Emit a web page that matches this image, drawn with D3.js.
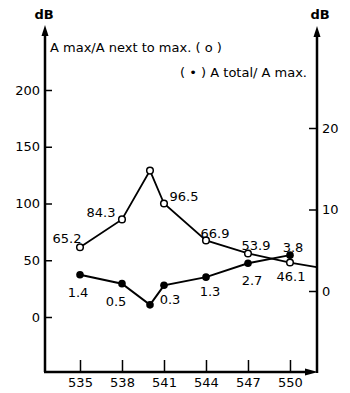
<!DOCTYPE html>
<html>
<head>
<meta charset="utf-8">
<script src="https://cdn.jsdelivr.net/npm/d3@7"></script>
<style>
  body { margin: 0; background: #fff; }
  text { font-family: "DejaVu Sans", sans-serif; fill: #000; }
</style>
</head>
<body>
<script>
// frequency (x) categories
var freqs = [535, 538, 540, 541, 544, 547, 550];
var xTicks = [535, 538, 541, 544, 547, 550];
var leftTicks = [0, 50, 100, 150, 200];
var rightTicks = [0, 10, 20];

// A max / A next to max (open circles, left axis)
var nextMax = [61.4, 86, 129, 100, 67.5, 56, 48];
var nextMaxLabels = ["65.2", "84.3", "", "96.5", "66.9", "53.9", "46.1"];
var nextMaxTail = [551.9, 43.9];

// A total / A max (filled dots, right axis)
var totalMax = [2.0, 0.9, -1.7, 0.7, 1.7, 3.4, 4.4];
var totalMaxLabels = ["1.4", "0.5", "", "0.3", "1.3", "2.7", "3.8"];

var width = 350, height = 393;

var svg = d3.select("body").append("svg")
    .attr("width", width)
    .attr("height", height);

var x = d3.scaleLinear().domain([532.5, 551.93]).range([45, 317]);
var yL = d3.scaleLinear().domain([0, 200]).range([317, 90]);
var yR = d3.scaleLinear().domain([0, 20]).range([291, 128]);
var baseY = 372;

// axes (ticks only, lines drawn by hand below)
var gx = svg.append("g").attr("transform", "translate(0," + baseY + ")")
    .call(d3.axisBottom(x).tickValues(xTicks).tickSize(-12).tickPadding(6).tickFormat(d3.format("d")));
var gl = svg.append("g").attr("transform", "translate(45,0)")
    .call(d3.axisLeft(yL).tickValues(leftTicks).tickSize(-7).tickPadding(5).tickFormat(d3.format("d")));
var gr = svg.append("g").attr("transform", "translate(317,0)")
    .call(d3.axisRight(yR).tickValues(rightTicks).tickSize(-8).tickPadding(5).tickFormat(d3.format("d")));

[gx, gl, gr].forEach(function(g) {
    g.select(".domain").remove();
    g.selectAll(".tick line").attr("stroke", "#000").attr("stroke-width", 1.5);
    g.selectAll(".tick text").style("font-size", "13px").attr("fill", "#000");
});

// axis lines
var axisStroke = 2.5;
svg.append("line").attr("x1", 45).attr("y1", baseY).attr("x2", 45).attr("y2", 34)
    .attr("stroke", "#000").attr("stroke-width", axisStroke);
svg.append("line").attr("x1", 317).attr("y1", baseY + 1).attr("x2", 317).attr("y2", 34)
    .attr("stroke", "#000").attr("stroke-width", axisStroke);
svg.append("line").attr("x1", 44).attr("y1", baseY).attr("x2", 308).attr("y2", baseY)
    .attr("stroke", "#000").attr("stroke-width", axisStroke);

// arrow heads
function arrowUp(cx, tip) {
    svg.append("path")
        .attr("d", "M" + cx + "," + tip + " L" + (cx - 3.5) + "," + (tip + 11) + " L" + (cx + 3.5) + "," + (tip + 11) + "Z")
        .attr("fill", "#000");
}
arrowUp(45, 25);
arrowUp(317, 26);
svg.append("path")
    .attr("d", "M318," + baseY + " L305," + (baseY - 3.5) + " L305," + (baseY + 3.5) + "Z")
    .attr("fill", "#000");

// axis titles
svg.append("text").attr("x", 44).attr("y", 19).attr("text-anchor", "middle")
    .style("font-size", "13px").style("font-weight", "bold").text("dB");
svg.append("text").attr("x", 320).attr("y", 19).attr("text-anchor", "middle")
    .style("font-size", "13px").style("font-weight", "bold").text("dB");

// legend texts
svg.append("text").attr("x", 50).attr("y", 52)
    .style("font-size", "13px").text("A max/A next to max. ( o )");
svg.append("text").attr("x", 307).attr("y", 77).attr("text-anchor", "end")
    .style("font-size", "13px").text("( \u2022 )  A total/ A max.");

// open circle series
var openPts = freqs.map(function(f, i) { return [x(f), yL(nextMax[i])]; });
var openLine = openPts.concat([[x(nextMaxTail[0]), yL(nextMaxTail[1])]]);
svg.append("path")
    .attr("d", d3.line()(openLine))
    .attr("fill", "none").attr("stroke", "#000").attr("stroke-width", 1.8);

// filled series
var filledPts = freqs.map(function(f, i) { return [x(f), yR(totalMax[i])]; });
svg.append("path")
    .attr("d", d3.line()(filledPts))
    .attr("fill", "none").attr("stroke", "#000").attr("stroke-width", 2);

svg.selectAll(".open").data(openPts).enter().append("circle")
    .attr("class", "open")
    .attr("cx", function(d) { return d[0]; })
    .attr("cy", function(d) { return d[1]; })
    .attr("r", 3.3)
    .attr("fill", "#fff").attr("stroke", "#000").attr("stroke-width", 1.5);

svg.selectAll(".filled").data(filledPts).enter().append("circle")
    .attr("class", "filled")
    .attr("cx", function(d) { return d[0]; })
    .attr("cy", function(d) { return d[1]; })
    .attr("r", 3.8)
    .attr("fill", "#000");

// value labels, offset from their points
var openOff = [[-13, -8], [-21, -6], [0, 0], [20, -7], [9, -6], [8, -7], [1, 14]];
var filledOff = [[-2, 18], [-6, 18], [0, 0], [6, 15], [4, 15], [4, 18], [3, -7]];

svg.selectAll(".olab").data(openPts).enter().append("text")
    .attr("x", function(d, i) { return d[0] + openOff[i][0]; })
    .attr("y", function(d, i) { return d[1] + openOff[i][1] + 4; })
    .attr("text-anchor", "middle")
    .style("font-size", "13px")
    .text(function(d, i) { return nextMaxLabels[i]; });

svg.selectAll(".flab").data(filledPts).enter().append("text")
    .attr("x", function(d, i) { return d[0] + filledOff[i][0]; })
    .attr("y", function(d, i) { return d[1] + filledOff[i][1] + 4; })
    .attr("text-anchor", "middle")
    .style("font-size", "13px")
    .text(function(d, i) { return totalMaxLabels[i]; });
</script>
</body>
</html>
